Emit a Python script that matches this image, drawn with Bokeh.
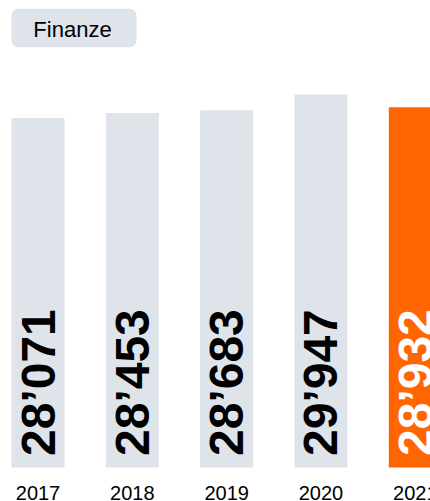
import math
from bokeh.plotting import figure
from bokeh.models import Range1d, ColumnDataSource, BoxAnnotation
from bokeh.core.properties import value
from bokeh.embed import file_html
from bokeh.resources import INLINE

# ---- data ----
years = [2017, 2018, 2019, 2020, 2021]
year_labels = ["2017", "2018", "2019", "2020", "2021"]
values = [28071, 28453, 28683, 29947, 28932]
highlight_year = 2021
title_text = "Finanze"

# ---- styling / geometry ----
W, H = 430, 501
spacing_px = 94.33          # pixels per year
first_center_px = 37.5      # x of first bar centre inside figure
zero_px = 467               # y (from top) of value 0 inside figure
k = 0.012455                # pixels per unit value
GREY = "#dfe3ea"
ORANGE = "#ff6600"

x0 = years[0] - first_center_px / spacing_px
x1 = x0 + W / spacing_px
y1 = zero_px / k
y0 = -(H - zero_px) / k

def xd(px):
    return x0 + px / spacing_px

def yd(py):
    return (zero_px - py) / k

p = figure(width=W, height=H, output_backend="svg", toolbar_location=None,
           x_range=Range1d(x0, x1), y_range=Range1d(y0, y1),
           min_border=0, outline_line_color=None)
p.axis.visible = False
p.grid.visible = False
p.background_fill_color = "white"
p.border_fill_color = "white"

fills = [ORANGE if y == highlight_year else GREY for y in years]
tcolors = ["white" if y == highlight_year else "black" for y in years]
labels = [f"{v:,}".replace(",", "\u2019") for v in values]

src = ColumnDataSource(dict(x=years, top=values, fill=fills, tcol=tcolors,
                            lab=labels, ylab=year_labels))

# title pill (drawn beneath glyphs)
box = BoxAnnotation(left=xd(11), right=xd(136), top=yd(8.3), bottom=yd(46.7),
                    fill_color=GREY, fill_alpha=1.0, line_color=None,
                    border_radius=7, level="underlay")
p.add_layout(box)

p.vbar(x="x", top="top", bottom=0, width=53 / spacing_px, source=src,
       fill_color="fill", line_color=None)

# value labels (rotated, inside bars)
p.text(x="x", y=yd(455.5), text="lab", source=src, angle=math.pi / 2,
       text_align="left", text_baseline="middle",
       text_font=value("Liberation Sans"), text_font_style="bold",
       text_font_size="48px", text_color="tcol")

# year labels
p.text(x="x", y=yd(492.8), text="ylab", source=src,
       text_align="center", text_baseline="middle",
       text_font=value("Liberation Sans"), text_font_size="20px",
       text_color="black")

p.text(x=[xd(72)], y=[yd(28.6)], text=[title_text], text_align="center",
       text_baseline="middle", text_font=value("Liberation Sans"),
       text_font_size="22px", text_color="black")

open("out.html", "w").write(file_html(p, INLINE))
